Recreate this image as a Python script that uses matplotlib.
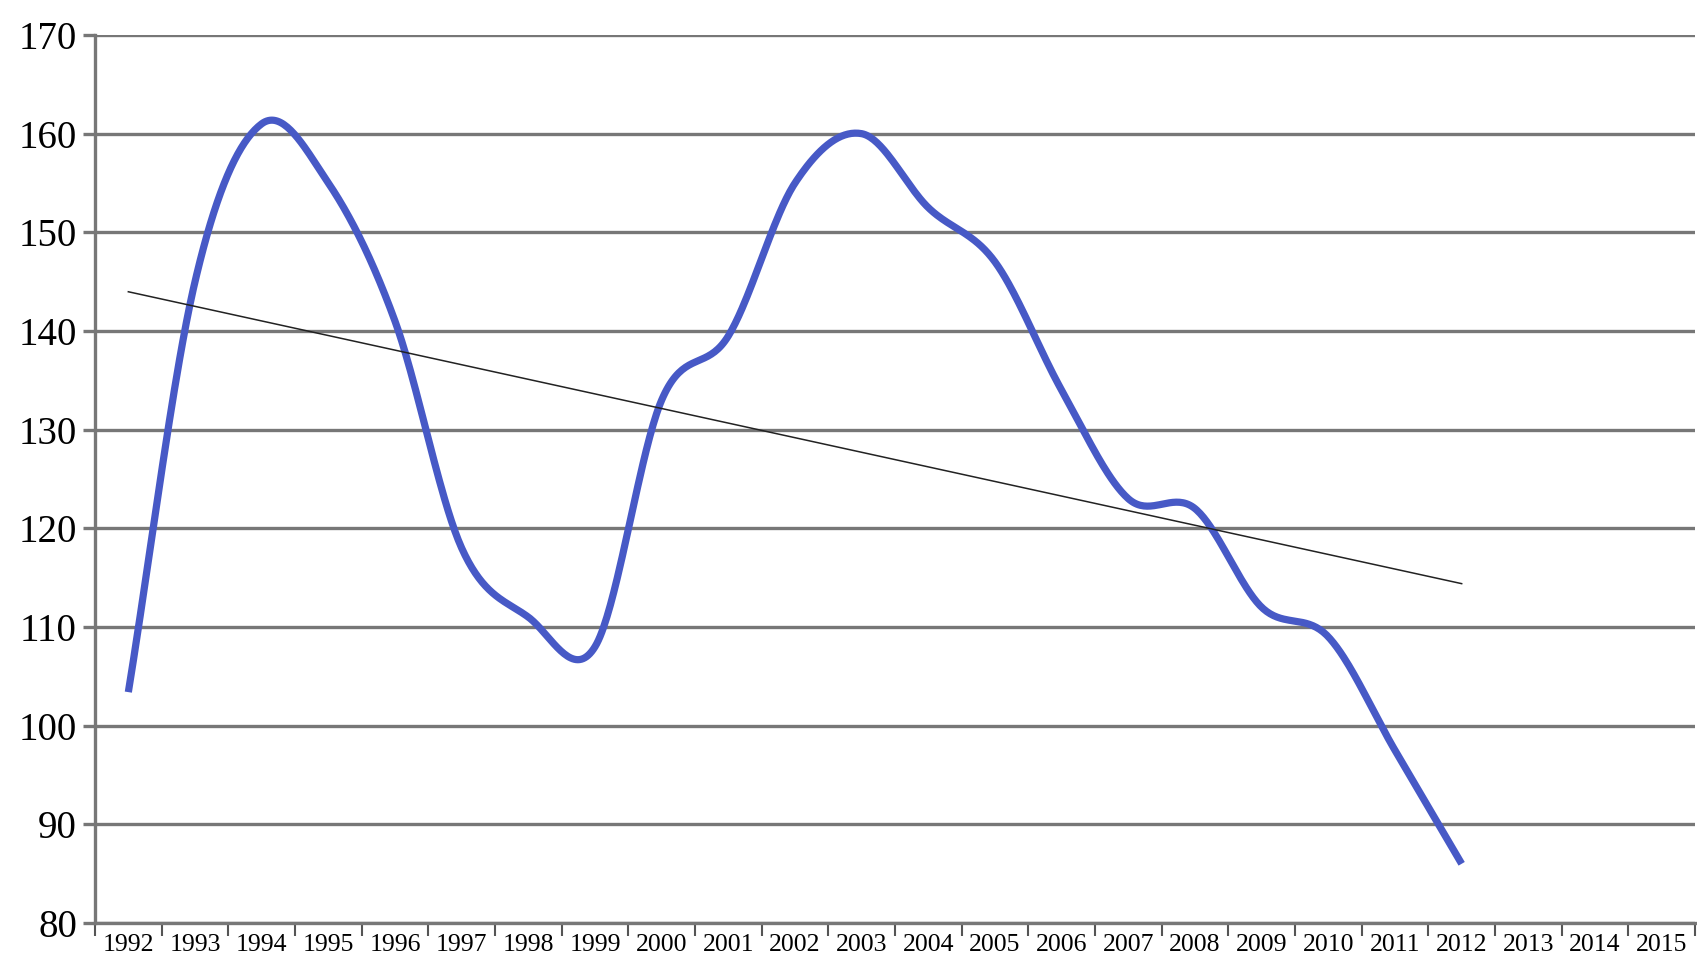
import numpy as np
from matplotlib import pyplot as plt

years = [str(y) for y in range(1992, 2016)]
values = [103.4, 145, 161, 155, 141, 118, 111, 108, 133, 139.5, 155,
          160, 152.5, 147, 134, 123, 122, 112, 109, 97.5, 86]

def smooth(y, n=40):
    '''Catmull-Rom style smoothing like a spreadsheet "smoothed line"'''
    y = np.asarray(y, float)
    m = np.empty_like(y)
    m[1:-1] = (y[2:] - y[:-2]) / 2.0
    m[0] = y[1] - y[0]
    m[-1] = y[-1] - y[-2]
    xs, ys = [], []
    t = np.linspace(0, 1, n)
    h00 = 2*t**3 - 3*t**2 + 1
    h10 = t**3 - 2*t**2 + t
    h01 = -2*t**3 + 3*t**2
    h11 = t**3 - t**2
    for i in range(len(y) - 1):
        xs.append(i + t)
        ys.append(h00*y[i] + h10*m[i] + h01*y[i+1] + h11*m[i+1])
    return np.concatenate(xs), np.concatenate(ys)

x = np.arange(len(values))
sx, sy = smooth(values)
k, b = np.polyfit(x, values, 1)

fig = plt.figure(figsize=(16.97, 9.66), dpi=100)
ax = fig.add_axes([95/1697, 43/966, 1600/1697, 888/966])

ax.set_xlim(-0.5, len(years) - 0.5)
ax.set_ylim(80, 170)
ax.set_yticks(np.arange(80, 171, 10))
ax.grid(axis='y', color='#777777', linewidth=2.4)
ax.set_axisbelow(True)

ax.plot(sx, sy, color='#4759c6', linewidth=5.2, solid_capstyle='butt', zorder=3)
ax.plot([x[0], x[-1]], [k*x[0] + b, k*x[-1] + b], color='#222222', linewidth=1.1, zorder=4)

for s in ['top', 'right']:
    ax.spines[s].set_visible(False)
for s in ['left', 'bottom']:
    ax.spines[s].set_color('#777777')
    ax.spines[s].set_linewidth(2.4)

ax.set_xticks(np.arange(len(years) + 1) - 0.5)
ax.set_xticklabels([])
ax.set_xticks(np.arange(len(years)), minor=True)
ax.set_xticklabels(years, minor=True, family='Liberation Serif', fontsize=18.5)
ax.tick_params(axis='x', which='major', length=9, width=1.5, color='#555555', direction='out')
ax.tick_params(axis='x', which='minor', length=0, pad=8)
ax.tick_params(axis='y', length=9, width=2.4, color='#777777', pad=4)
for lab in ax.get_yticklabels():
    lab.set_family('Liberation Serif')
    lab.set_fontsize(28)

fig.savefig('out.png', dpi=100)
